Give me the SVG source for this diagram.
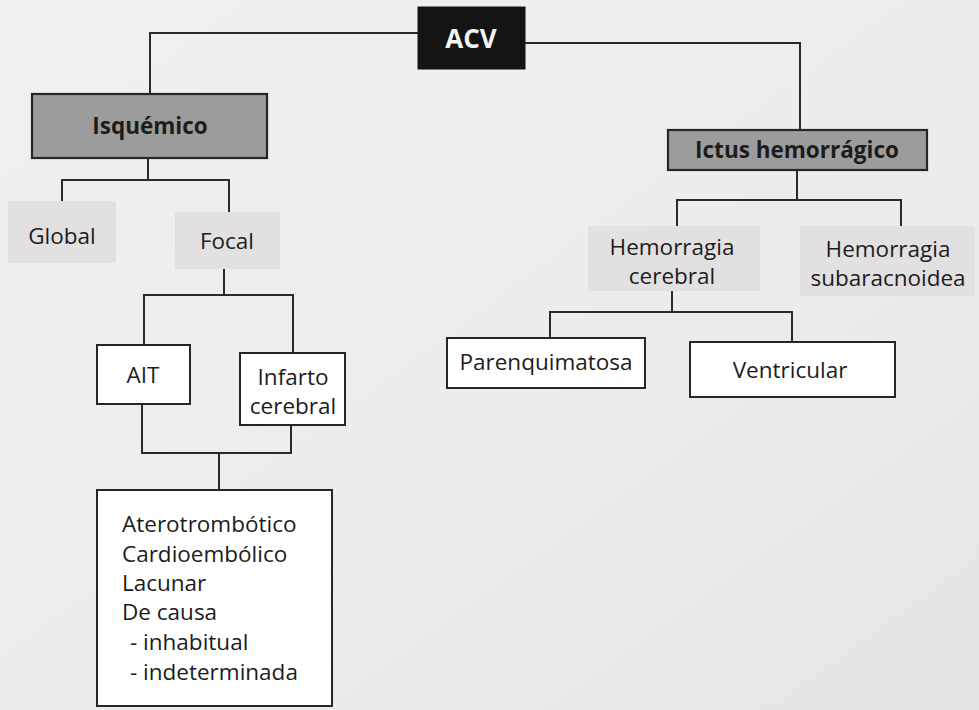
<svg xmlns="http://www.w3.org/2000/svg" width="979" height="710" viewBox="0 0 979 710">
  <defs>
    <style>
      .lbl { font-family: "Open Sans", "Noto Sans", "Liberation Sans", sans-serif; font-size: 22.5px; font-weight: 500; fill: #1c1c1c; }
      .b { font-weight: bold; }
      .c { text-anchor: middle; }
      .box { fill: #ffffff; stroke: #262626; stroke-width: 2; }
      .head { fill: #9c9c9c; stroke: #262626; stroke-width: 2.2; }
      .soft { fill: #e2e0e1; stroke: none; }
      .conn { fill: none; stroke: #2a2a2a; stroke-width: 2; }
    </style>
    <linearGradient id="paper" x1="0" y1="0" x2="1" y2="1">
      <stop offset="0" stop-color="#f1eff0"/>
      <stop offset="0.6" stop-color="#edebec"/>
      <stop offset="1" stop-color="#e6e3e5"/>
    </linearGradient>
  </defs>

  <rect width="979" height="710" fill="url(#paper)"/>

  <!-- connectors -->
  <g id="connectors" class="conn">
    <polyline points="418,33 150,33 150,94"/>
    <polyline points="525,43 800,43 800,130"/>
    <polyline points="148,158 148,180"/>
    <polyline points="62,203 62,180 229,180 229,212"/>
    <polyline points="224,268 224,295"/>
    <polyline points="144,345 144,295 293,295 293,353"/>
    <polyline points="142,404 142,453 291,453 291,425"/>
    <polyline points="219,453 219,490"/>
    <polyline points="797,170 797,200"/>
    <polyline points="677,228 677,200 901,200 901,226"/>
    <polyline points="672,290 672,312"/>
    <polyline points="550,338 550,312 792,312 792,342"/>
  </g>

  <g id="acv">
    <rect x="418" y="7" width="107" height="62" fill="#141414" stroke="#141414"/>
    <text class="lbl b c" x="471" y="48" style="fill:#f4f4f4;font-size:26px">ACV</text>
  </g>

  <g id="isquemico">
    <rect class="head" x="32" y="94" width="235" height="64"/>
    <text class="lbl b c" x="150" y="134">Isquémico</text>
  </g>

  <g id="global">
    <rect class="soft" x="8" y="201" width="108" height="62"/>
    <text class="lbl c" x="62" y="244">Global</text>
  </g>

  <g id="focal">
    <rect class="soft" x="175" y="212" width="105" height="57"/>
    <text class="lbl c" x="227" y="249">Focal</text>
  </g>

  <g id="ait">
    <rect class="box" x="97" y="345" width="93" height="59"/>
    <text class="lbl c" x="143" y="383">AIT</text>
  </g>

  <g id="infarto">
    <rect class="box" x="240" y="353" width="105" height="72"/>
    <text class="lbl c" x="293" y="385">Infarto</text>
    <text class="lbl c" x="293" y="414">cerebral</text>
  </g>

  <g id="tipos">
    <rect class="box" x="97" y="490" width="235" height="216"/>
    <text class="lbl" x="122" y="532">Aterotrombótico</text>
    <text class="lbl" x="122" y="562">Cardioembólico</text>
    <text class="lbl" x="122" y="591">Lacunar</text>
    <text class="lbl" x="122" y="620">De causa</text>
    <text class="lbl" x="130" y="650">- inhabitual</text>
    <text class="lbl" x="130" y="680">- indeterminada</text>
  </g>

  <g id="ictus">
    <rect class="head" x="668" y="130" width="259" height="40"/>
    <text class="lbl b c" x="797" y="158">Ictus hemorrágico</text>
  </g>

  <g id="hem-cerebral">
    <rect class="soft" x="588" y="226" width="172" height="65"/>
    <text class="lbl c" x="672" y="255">Hemorragia</text>
    <text class="lbl c" x="672" y="284">cerebral</text>
  </g>

  <g id="hem-subaracnoidea">
    <rect class="soft" x="800" y="226" width="175" height="70"/>
    <text class="lbl c" x="888" y="257">Hemorragia</text>
    <text class="lbl c" x="888" y="286">subaracnoidea</text>
  </g>

  <g id="parenquimatosa">
    <rect class="box" x="447" y="338" width="198" height="50"/>
    <text class="lbl c" x="546" y="370">Parenquimatosa</text>
  </g>

  <g id="ventricular">
    <rect class="box" x="690" y="342" width="205" height="55"/>
    <text class="lbl c" x="790" y="378">Ventricular</text>
  </g>
</svg>
